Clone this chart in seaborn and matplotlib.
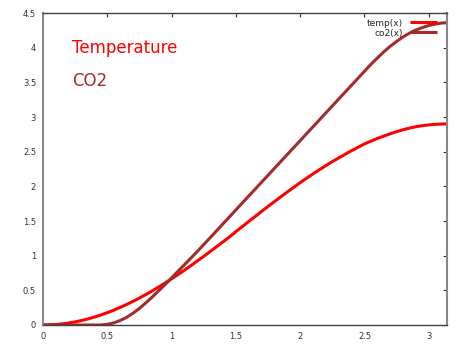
import matplotlib
matplotlib.use("Agg")
import matplotlib.pyplot as plt
import seaborn as sns
import pandas as pd

x_vals = [0.0, 0.05, 0.1, 0.15, 0.2, 0.25, 0.3, 0.35, 0.4, 0.45,
          0.5, 0.55, 0.6, 0.65, 0.7, 0.75, 0.8, 0.85, 0.9, 0.95,
          1.0, 1.05, 1.1, 1.15, 1.2, 1.25, 1.3, 1.35, 1.4, 1.45,
          1.5, 1.55, 1.6, 1.65, 1.7, 1.75, 1.8, 1.85, 1.9, 1.95,
          2.0, 2.05, 2.1, 2.15, 2.2, 2.25, 2.3, 2.35, 2.4, 2.45,
          2.5, 2.55, 2.6, 2.65, 2.7, 2.75, 2.8, 2.85, 2.9, 2.95,
          3.0, 3.05, 3.1, 3.1416]
temp_vals = [0.0, 0.002, 0.007, 0.016, 0.029, 0.045, 0.065, 0.088, 0.115, 0.145,
             0.178, 0.214, 0.254, 0.296, 0.341, 0.389, 0.44, 0.493, 0.549, 0.606,
             0.666, 0.728, 0.791, 0.856, 0.924, 0.99, 1.06, 1.13, 1.2, 1.27,
             1.347, 1.42, 1.493, 1.565, 1.638, 1.71, 1.78, 1.85, 1.919, 1.986,
             2.053, 2.117, 2.18, 2.241, 2.3, 2.357, 2.41, 2.463, 2.515, 2.563,
             2.612, 2.652, 2.69, 2.725, 2.758, 2.789, 2.816, 2.84, 2.86, 2.875,
             2.886, 2.894, 2.899, 2.9]
co2_vals = [0.0, 0.0, 0.0, 0.0, 0.0, 0.0, 0.0, 0.0, 0.0, 0.0,
            0.01, 0.03, 0.065, 0.11, 0.17, 0.24, 0.32, 0.405, 0.495, 0.585,
            0.68, 0.775, 0.87, 0.965, 1.06, 1.16, 1.26, 1.36, 1.46, 1.56,
            1.66, 1.76, 1.86, 1.96, 2.06, 2.16, 2.26, 2.36, 2.46, 2.56,
            2.66, 2.76, 2.86, 2.96, 3.06, 3.16, 3.26, 3.36, 3.46, 3.56,
            3.66, 3.76, 3.85, 3.94, 4.02, 4.09, 4.155, 4.21, 4.255, 4.29,
            4.32, 4.34, 4.355, 4.36]
series_names = ["temp(x)", "co2(x)"]
series_colors = ["#ff0000", "#a52a2a"]
x_ticks = [0, 0.5, 1, 1.5, 2, 2.5, 3]
x_tick_labels = ["0", "0.5", "1", "1.5", "2", "2.5", "3"]
y_ticks = [0, 0.5, 1, 1.5, 2, 2.5, 3, 3.5, 4, 4.5]
y_tick_labels = ["0", "0.5", "1", "1.5", "2", "2.5", "3", "3.5", "4", "4.5"]

df = pd.DataFrame({
    "x": x_vals * 2,
    "y": temp_vals + co2_vals,
    "series": [series_names[0]] * len(x_vals) + [series_names[1]] * len(x_vals),
})

sns.set_style("white")
plt.rcParams["font.family"] = ["DejaVu Sans"]

fig = plt.figure(figsize=(4.76, 3.53), dpi=100)
ax = fig.add_axes([43 / 476, 28 / 353, 404 / 476, 312 / 353])

sns.lineplot(data=df, x="x", y="y", hue="series", palette=series_colors,
             hue_order=series_names, linewidth=2.2, ax=ax, legend=True, sort=False)

ax.set_xlim(0, 3.1416)
ax.set_ylim(0, 4.5)
ax.set_xticks(x_ticks)
ax.set_xticklabels(x_tick_labels)
ax.set_yticks(y_ticks)
ax.set_yticklabels(y_tick_labels)
ax.set_xlabel("")
ax.set_ylabel("")
ax.tick_params(direction="in", top=True, right=True, length=3, width=0.8,
               labelsize=6, colors="#333333", pad=5)
for side in ["left", "right"]:
    ax.spines[side].set_color("#888888")
    ax.spines[side].set_linewidth(1.5)
for side in ["top", "bottom"]:
    ax.spines[side].set_color("#404040")
    ax.spines[side].set_linewidth(1.0)

ax.text(0.225, 4.0, "Temperature", color=series_colors[0], fontsize=12,
        va="center", ha="left")
ax.text(0.225, 3.52, "CO2", color=series_colors[1], fontsize=12,
        va="center", ha="left")

leg = ax.legend(loc="upper right", bbox_to_anchor=(0.975, 0.982), frameon=False,
                fontsize=6.5, markerfirst=False, handlelength=3.0,
                handletextpad=0.8, labelspacing=0.1, borderaxespad=0.0,
                borderpad=0.0)
for line in leg.get_lines():
    line.set_linewidth(2.2)
    line.set_solid_capstyle("butt")

fig.savefig("out.png", dpi=100)
